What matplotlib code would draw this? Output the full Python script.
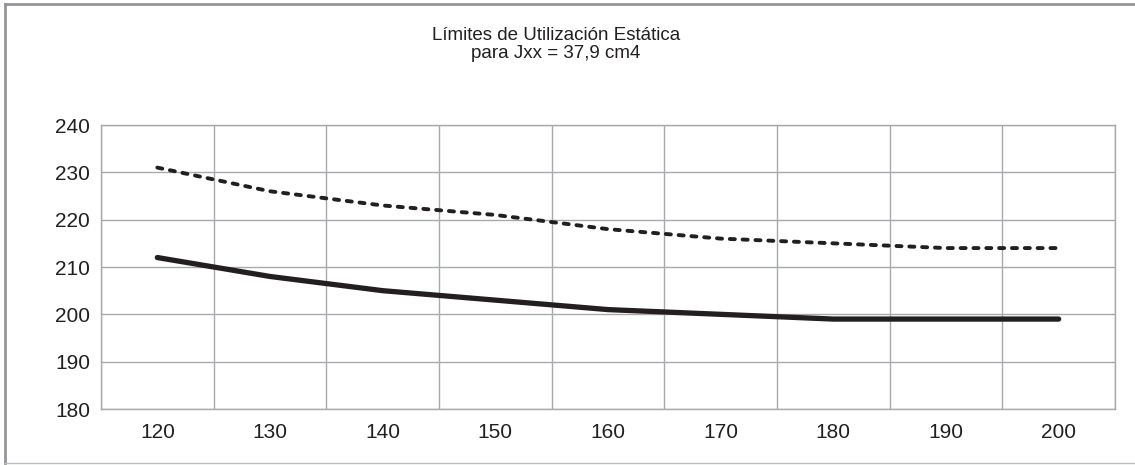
import matplotlib.pyplot as plt
from matplotlib.lines import Line2D
import numpy as np

plt.rcParams['font.family'] = ['Liberation Sans', 'DejaVu Sans']

# Datos
luces = [120, 130, 140, 150, 160, 170, 180, 190, 200]
limite_sup = [231, 226, 223, 221, 218, 216, 215, 214, 214]
limite_inf = [212, 208, 205, 203, 201, 200, 199, 199, 199]
y_ticks = [180, 190, 200, 210, 220, 230, 240]

fig = plt.figure(figsize=(11.35, 4.65), dpi=100)
W, H = 1135, 465
ax = fig.add_axes([101 / W, 1 - 409 / H, (1115 - 101) / W, (409 - 125) / H])

x = np.arange(len(luces))
ax.plot(x, limite_sup, color='#231f20', lw=2.8, ls=(0, (1.3, 2.0)),
        solid_capstyle='round', dash_capstyle='round')
ax.plot(x, limite_inf, color='#231f20', lw=3.8, solid_capstyle='round')

ax.set_xlim(-0.5, len(luces) - 0.5)
ax.set_ylim(180, 240)
ax.set_yticks(y_ticks)
ax.set_xticks(x)
ax.set_xticklabels([str(v) for v in luces])
ax.set_xticks(np.arange(len(luces) + 1) - 0.5, minor=True)
ax.grid(False)
ax.grid(True, which='minor', axis='x', color='#a7a9ac', lw=1)
ax.grid(True, which='major', axis='y', color='#a7a9ac', lw=1)
ax.set_axisbelow(True)
for s in ax.spines.values():
    s.set_color('#a7a9ac')
    s.set_linewidth(1)
ax.tick_params(which='both', length=0)
ax.tick_params(axis='both', labelsize=15, colors='#231f20', pad=10)
ax.tick_params(axis='y', pad=8)

fig.text(556 / W, 1 - 35 / H, 'Límites de Utilización Estática', ha='center',
         va='center', fontsize=13.5, color='#231f20')
fig.text(556 / W, 1 - 54 / H, 'para Jxx = 37,9 cm4', ha='center',
         va='center', fontsize=13.5, color='#231f20')

# marco
fig.add_artist(Line2D([5 / W, 5 / W], [1 - 463 / H, 1 - 4 / H], color='#939598', lw=2, transform=fig.transFigure))
fig.add_artist(Line2D([5 / W, 1], [1 - 4 / H, 1 - 4 / H], color='#939598', lw=2, transform=fig.transFigure))
fig.add_artist(Line2D([5 / W, 1], [1 - 463 / H, 1 - 463 / H], color='#bcbec0', lw=1, transform=fig.transFigure))

fig.savefig('out.png', dpi=100)
